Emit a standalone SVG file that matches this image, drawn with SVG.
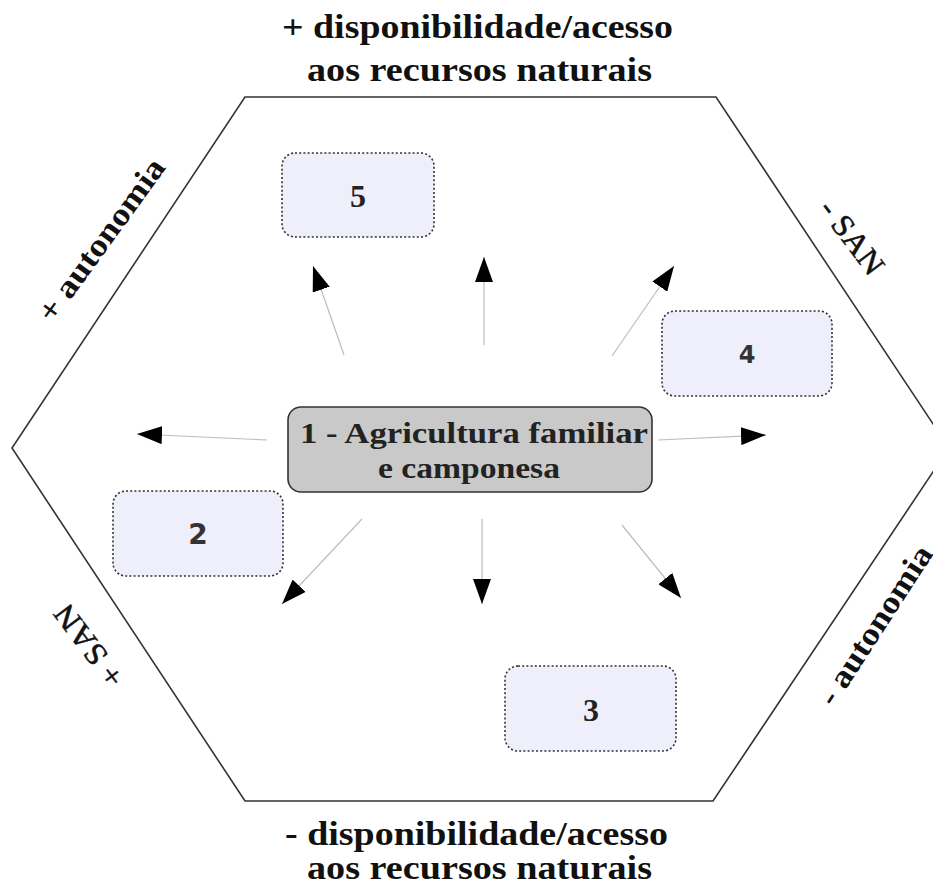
<svg xmlns="http://www.w3.org/2000/svg" width="933" height="887" viewBox="0 0 933 887">
<style>
.hd{font-family:"Liberation Serif","Times New Roman",serif;font-weight:bold;font-size:33px;fill:#111;text-anchor:middle}
.lb{font-family:"Liberation Serif","Times New Roman",serif;font-weight:bold;font-size:32px;fill:#111;text-anchor:middle}
.san{font-family:"Liberation Serif","Times New Roman",serif;font-size:31px;fill:#111;stroke:#111;stroke-width:0.5;text-anchor:middle}
.box{fill:#efeffb;stroke:#333;stroke-width:1.6;stroke-dasharray:2 2.2}
.num{font-family:"Liberation Serif","Times New Roman",serif;font-weight:bold;font-size:32px;fill:#222;text-anchor:middle}
.nums{font-family:"DejaVu Sans","Liberation Sans",sans-serif;font-weight:bold;font-size:24px;fill:#333;text-anchor:middle}
.ctr{fill:#c9c9c9;stroke:#333;stroke-width:1.6}
.ct{font-family:"Liberation Serif","Times New Roman",serif;font-weight:bold;font-size:30px;fill:#222;text-anchor:middle}
.cn{stroke:#bdbdbd;stroke-width:1.2;fill:none;marker-end:url(#ah)}
</style>
<defs>
<marker id="ah" markerWidth="26" markerHeight="18" refX="25" refY="9" orient="auto" markerUnits="userSpaceOnUse">
<path d="M0,0 L25,9 L0,18 z" fill="#000"/>
</marker>
</defs>
<rect width="933" height="887" fill="#fff"/>
<g id="hexagon">
<polygon points="245,97 716,97 949,448 713,801 245,801 12,448" fill="none" stroke="#333" stroke-width="1.6"/>
</g>
<g id="labels">
<text class="hd" x="477.5" y="38" textLength="391" lengthAdjust="spacingAndGlyphs">+ disponibilidade/acesso</text>
<text class="hd" x="479.5" y="81" textLength="345" lengthAdjust="spacingAndGlyphs">aos recursos naturais</text>
<text class="hd" x="476.5" y="845" textLength="383" lengthAdjust="spacingAndGlyphs">- disponibilidade/acesso</text>
<text class="hd" x="479.5" y="879" textLength="345" lengthAdjust="spacingAndGlyphs">aos recursos naturais</text>
<g transform="translate(104,242) rotate(-54)"><text class="lb" x="0" y="7" textLength="194" lengthAdjust="spacingAndGlyphs">+ autonomia</text></g>
<g transform="translate(878,627) rotate(-57)"><text class="lb" x="0" y="7" textLength="184" lengthAdjust="spacingAndGlyphs">- autonomia</text></g>
<g transform="translate(851,238) rotate(53)"><text class="san" x="0" y="9" textLength="86" lengthAdjust="spacingAndGlyphs">- SAN</text></g>
<g transform="translate(90,645) rotate(233)"><text class="san" x="0" y="9" textLength="95" lengthAdjust="spacingAndGlyphs">+ SAN</text></g>
</g>
<g id="connectors">
<line class="cn" x1="344" y1="355" x2="313" y2="266"/>
<line class="cn" x1="484" y1="345" x2="484" y2="257"/>
<line class="cn" x1="612" y1="356" x2="674" y2="266"/>
<line class="cn" x1="267" y1="440" x2="137" y2="434"/>
<line class="cn" x1="658" y1="440" x2="766" y2="435"/>
<line class="cn" x1="362" y1="519" x2="282" y2="604"/>
<line class="cn" x1="482" y1="519" x2="482" y2="604"/>
<line class="cn" x1="622" y1="525" x2="681" y2="598"/>
</g>
<g id="node1">
<rect class="ctr" x="288" y="407" width="364" height="85" rx="13"/>
<text class="ct" x="474" y="443" textLength="348" lengthAdjust="spacingAndGlyphs">1 - Agricultura familiar</text>
<text class="ct" x="469" y="478" textLength="182" lengthAdjust="spacingAndGlyphs">e camponesa</text>
</g>
<g id="node5">
<rect class="box" x="282" y="153" width="152" height="84" rx="13"/>
<text class="num" x="358" y="207">5</text>
</g>
<g id="node4">
<rect class="box" x="662" y="311" width="170" height="85" rx="13"/>
<text class="nums" x="747" y="363">4</text>
</g>
<g id="node2">
<rect class="box" x="113" y="491" width="170" height="85" rx="13"/>
<text class="nums" x="198" y="544" style="font-size:28px">2</text>
</g>
<g id="node3">
<rect class="box" x="505" y="666" width="171" height="85" rx="13"/>
<text class="num" x="591" y="721">3</text>
</g>
</svg>
